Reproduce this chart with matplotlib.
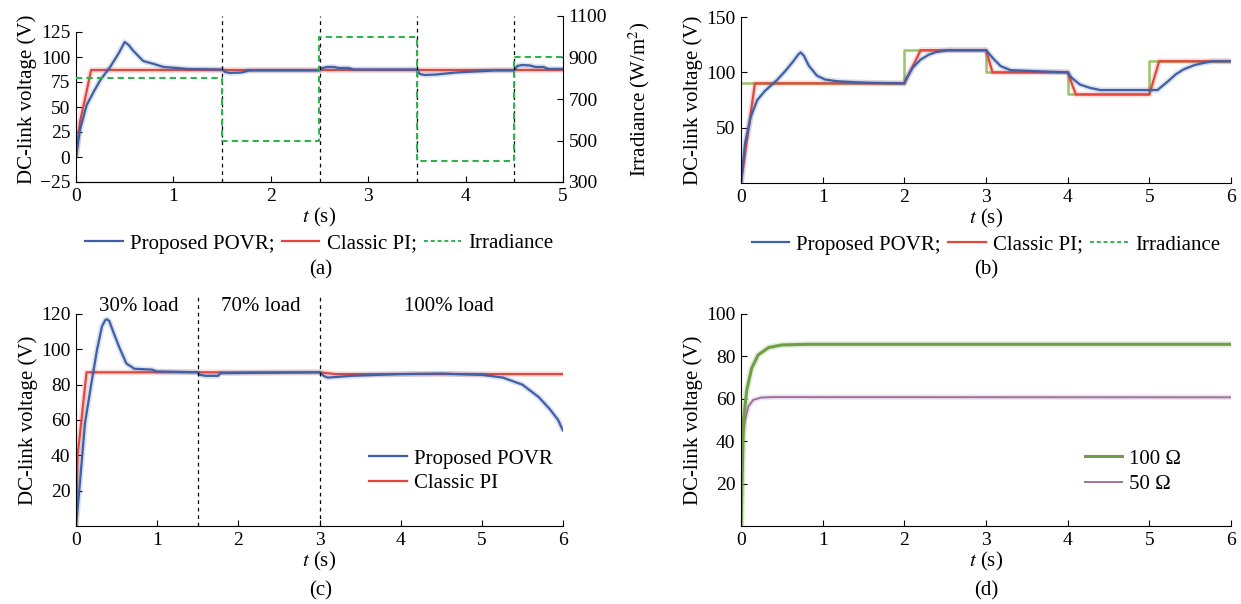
import numpy as np
import matplotlib
matplotlib.use('Agg')
import matplotlib.pyplot as plt
from matplotlib.lines import Line2D

plt.rcParams['font.family'] = ['Liberation Serif', 'DejaVu Serif']
plt.rcParams['mathtext.fontset'] = 'stix'
plt.rcParams['font.size'] = 14

AZUL = '#3f5fa6'
VERM = '#e5463c'
VERDE = '#2fb34f'
VERDE_REF = '#9cc46a'
VERDE_D = '#6f9f45'
ROXO = '#a070a0'

# ---------------- (a) irradiance steps ----------------
ta_povr = [0, 0.04, 0.11, 0.18, 0.25, 0.35, 0.44, 0.5, 0.54, 0.59, 0.69, 0.8, 0.9, 1.04, 1.14, 1.5,
           1.53, 1.58, 1.7, 1.78, 2.5, 2.53, 2.58, 2.65, 2.7, 2.8, 2.85, 3.5,
           3.53, 3.58, 3.7, 3.9, 4.1, 4.3, 4.5, 4.53, 4.58, 4.66, 4.72, 4.8, 4.85, 5.0]
va_povr = [0, 27, 52, 65, 77, 90, 104, 115, 112, 106, 96, 93, 90, 89, 88, 87.5,
           85, 84, 84.5, 86.5, 86.5, 89, 90, 90, 89, 89, 87.5, 87.5,
           83, 82, 82.5, 84.5, 85.5, 86.5, 86.5, 91, 92, 91.5, 90, 90, 88, 88]
ta_pi = [0, 0.04, 0.09, 0.155, 5.0]
va_pi = [0, 35, 57, 87, 87]
ta_irr = [0, 1.5, 1.5, 2.5, 2.5, 3.5, 3.5, 4.5, 4.5, 5.0]
va_irr = [800, 800, 500, 500, 1000, 1000, 400, 400, 900, 900]
ta_eventos = [1.5, 2.5, 3.5, 4.5]

# ---------------- (b) reference steps ----------------
tb_povr = [0, 0.05, 0.12, 0.2, 0.29, 0.44, 0.54, 0.64, 0.7, 0.73, 0.77, 0.83, 0.93, 1.03, 1.17, 1.42, 1.6, 2.0,
           2.03, 2.1, 2.2, 2.3, 2.39, 2.54, 3.0,
           3.03, 3.1, 3.18, 3.3, 3.62, 4.0,
           4.05, 4.15, 4.27, 4.4, 5.1,
           5.23, 5.32, 5.42, 5.55, 5.67, 5.77, 6.0]
vb_povr = [0, 36, 60, 75, 83, 93, 101, 110, 116, 118, 115, 106, 97, 93.5, 92, 91, 90.5, 90,
           95, 104, 111.5, 116, 118.3, 120, 120,
           117.5, 111.5, 105.6, 102, 101, 100,
           95, 89, 86, 84, 84,
           92, 98, 102.7, 106.5, 108.6, 110, 110]
tb_pi = [0, 0.17, 2.0, 2.2, 3.0, 3.08, 4.0, 4.1, 5.0, 5.12, 6.0]
vb_pi = [0, 90, 90, 120, 120, 100, 100, 80, 80, 110, 110]
tb_ref = [0, 2.0, 2.0, 3.0, 3.0, 4.0, 4.0, 5.0, 5.0, 6.0]
vb_ref = [90, 90, 120, 120, 100, 100, 80, 80, 110, 110]

# ---------------- (c) load steps ----------------
tc_povr = [0, 0.04, 0.11, 0.19, 0.26, 0.32, 0.36, 0.38, 0.41, 0.45, 0.53, 0.62, 0.72, 0.94, 0.99, 1.5,
           1.53, 1.6, 1.75, 1.78, 3.0, 3.05, 3.1, 3.4, 4.0, 4.5, 5.01, 5.26, 5.5, 5.7, 5.84, 5.94, 6.0]
vc_povr = [0, 20, 58, 81, 100, 113, 116.5, 117, 116, 111, 101.5, 92, 89, 88.5, 87.5, 87,
           85.5, 85, 85, 86.5, 87, 85, 84, 85, 86, 86.3, 85.5, 84, 80, 73, 66, 60, 54]
tc_pi = [0, 0.02, 0.13, 3.0, 3.2, 6.0]
vc_pi = [0, 40, 87, 87, 86, 86]
tc_eventos = [1.5, 3.0]
cargas = ['30% load', '70% load', '100% load']
tc_cargas = [0.77, 2.28, 4.6]

# ---------------- (d) resistance ----------------
td_100 = [0, 0.03, 0.07, 0.13, 0.21, 0.34, 0.5, 0.8, 6.0]
vd_100 = [0, 50, 64, 74.4, 80.7, 84.2, 85.4, 85.7, 85.7]
td_50 = [0, 0.016, 0.05, 0.09, 0.15, 0.25, 0.4, 6.0]
vd_50 = [0, 40.7, 50, 56.4, 59.5, 60.6, 60.8, 60.7]


def linha(ax, t, v, cor, lw=1.6, **kw):
    # halo claro por baixo, como no original
    ax.plot(t, v, color=cor, lw=lw + 2.5, alpha=0.18, solid_capstyle='butt')
    return ax.plot(t, v, color=cor, lw=lw, **kw)


def estilo(ax):
    ax.spines['top'].set_visible(False)
    ax.spines['right'].set_visible(False)
    ax.tick_params(direction='in', length=4, labelsize=14, pad=4)


fig = plt.figure(figsize=(12.41, 6.04), dpi=100)
W, H = 1241, 604


def eixo(x0, x1, y0, y1):
    return fig.add_axes([x0 / W, 1 - y1 / H, (x1 - x0) / W, (y1 - y0) / H])


leg_kw = dict(loc='upper center', bbox_to_anchor=(0.5, -0.25), ncol=3, frameon=False,
              fontsize=15, handlelength=1.8, handletextpad=0.35, columnspacing=0.35,
              borderpad=0)

# ---------------- (a) ----------------
ax = eixo(76, 563, 16, 182)
estilo(ax)
linha(ax, ta_pi, va_pi, VERM)
linha(ax, ta_povr, va_povr, AZUL)
for t in ta_eventos:
    ax.axvline(t, color='black', ls=(0, (3, 3)), lw=0.9)
ax.set_xlim(0, 5)
ax.set_ylim(-25, 141)
ax.spines['left'].set_bounds(-25, 125)
ax.set_yticks([-25, 0, 25, 50, 75, 100, 125])
ax.set_xticks([0, 1, 2, 3, 4, 5])
ax.set_ylabel('DC-link voltage (V)', fontsize=15, labelpad=2)
ax.set_xlabel(r'$t$ (s)', fontsize=15, labelpad=1)
ax2 = ax.twinx()
ax2.spines['top'].set_visible(False)
ax2.spines['left'].set_visible(False)
ax2.plot(ta_irr, va_irr, color=VERDE, ls=(0, (3, 2)), lw=1.5)
ax2.set_ylim(300, 1100)
ax2.set_yticks([300, 500, 700, 900, 1100])
ax2.tick_params(direction='in', length=4, labelsize=14, pad=4)
ax2.set_ylabel(r'Irradiance (W/m$^2$)', fontsize=15, labelpad=14)
h_a = [Line2D([], [], color=AZUL, lw=1.6), Line2D([], [], color=VERM, lw=1.6),
       Line2D([], [], color=VERDE, lw=1.4, ls=(0, (2, 1.5)))]
ax.legend(h_a, ['Proposed POVR;', 'Classic PI;', 'Irradiance'], **leg_kw)
fig.text(321 / W, 1 - 270 / H, '(a)', ha='center', va='center', fontsize=15)

# ---------------- (b) ----------------
bx = eixo(741, 1231, 17, 183)
estilo(bx)
bx.plot(tb_ref, vb_ref, color=VERDE_REF, lw=1.8)
linha(bx, tb_pi, vb_pi, VERM)
linha(bx, tb_povr, vb_povr, AZUL)
bx.set_xlim(0, 6)
bx.set_ylim(0, 150)
bx.set_yticks([50, 100, 150])
bx.set_xticks(range(7))
bx.set_ylabel('DC-link voltage (V)', fontsize=15, labelpad=2)
bx.set_xlabel(r'$t$ (s)', fontsize=15, labelpad=1)
bx.legend(h_a, ['Proposed POVR;', 'Classic PI;', 'Irradiance'], **leg_kw)
fig.text(986 / W, 1 - 270 / H, '(b)', ha='center', va='center', fontsize=15)

# ---------------- (c) ----------------
cx = eixo(76, 563, 314, 526)
estilo(cx)
linha(cx, tc_pi, vc_pi, VERM, label='Classic PI')
linha(cx, tc_povr, vc_povr, AZUL, label='Proposed POVR')
for t in tc_eventos:
    cx.plot([t, t], [0, 131], color='black', ls=(0, (3, 3)), lw=0.9, clip_on=False)
for t, s in zip(tc_cargas, cargas):
    cx.text(t, 124, s, ha='center', va='center', fontsize=15)
cx.set_xlim(0, 6)
cx.set_ylim(0, 120)
cx.set_yticks([20, 40, 60, 80, 100, 120])
cx.set_xticks(range(7))
cx.set_ylabel('DC-link voltage (V)', fontsize=15, labelpad=2)
cx.set_xlabel(r'$t$ (s)', fontsize=15, labelpad=1)
hc, lc = cx.get_legend_handles_labels()
cx.legend(hc[::-1], lc[::-1], loc='lower right', bbox_to_anchor=(1.0, 0.105),
          frameon=False, fontsize=15, handlelength=1.8, handletextpad=0.35,
          labelspacing=0.25, borderpad=0)
fig.text(321 / W, 1 - 591 / H, '(c)', ha='center', va='center', fontsize=15)

# ---------------- (d) ----------------
dx = eixo(741, 1231, 314, 526)
estilo(dx)
linha(dx, td_50, vd_50, ROXO, lw=1.4, label='50 Ω')
linha(dx, td_100, vd_100, VERDE_D, lw=2.2, label='100 Ω')
dx.set_xlim(0, 6)
dx.set_ylim(0, 100)
dx.set_yticks([20, 40, 60, 80, 100])
dx.set_xticks(range(7))
dx.set_ylabel('DC-link voltage (V)', fontsize=15, labelpad=2)
dx.set_xlabel(r'$t$ (s)', fontsize=15, labelpad=1)
hd, ld = dx.get_legend_handles_labels()
dx.legend(hd[::-1], ld[::-1], loc='lower right', bbox_to_anchor=(0.92, 0.1),
          frameon=False, fontsize=15, handlelength=1.8, handletextpad=0.35,
          labelspacing=0.3, borderpad=0)
fig.text(986 / W, 1 - 591 / H, '(d)', ha='center', va='center', fontsize=15)

fig.savefig('out.png', dpi=100)
